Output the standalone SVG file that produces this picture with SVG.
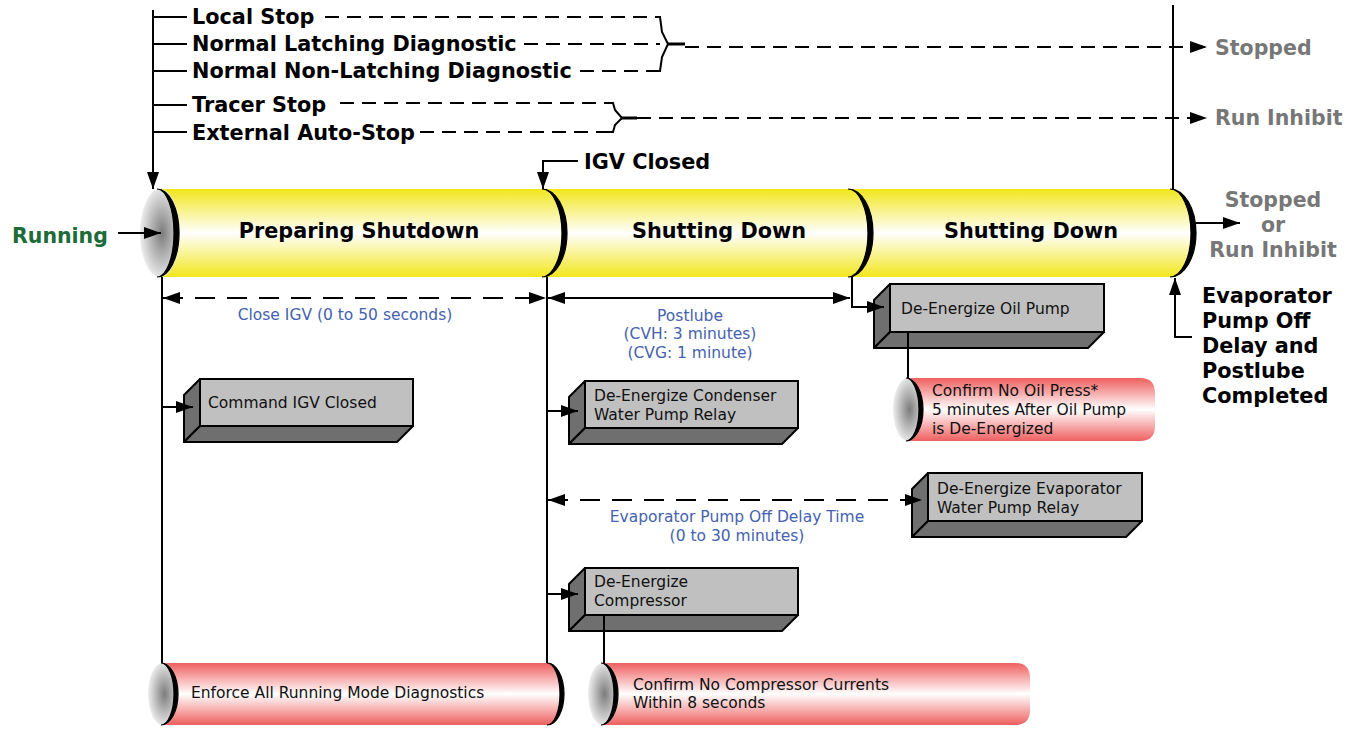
<svg xmlns="http://www.w3.org/2000/svg" width="1363" height="729" viewBox="0 0 1363 729">
<defs>
<linearGradient id="yg" x1="0" y1="0" x2="0" y2="1">
<stop offset="0" stop-color="#f2e61c"/><stop offset="0.5" stop-color="#ffffff"/><stop offset="1" stop-color="#f2e61c"/>
</linearGradient>
<linearGradient id="rg" x1="0" y1="0" x2="0" y2="1">
<stop offset="0" stop-color="#ef5f5f"/><stop offset="0.5" stop-color="#ffffff"/><stop offset="1" stop-color="#ef5f5f"/>
</linearGradient>
<radialGradient id="gg" cx="0.55" cy="0.5" r="0.55">
<stop offset="0" stop-color="#7c7c7c"/><stop offset="1" stop-color="#eeeeee"/>
</radialGradient>
<marker id="ar" viewBox="0 0 17 12" refX="17" refY="6" markerWidth="17" markerHeight="12" markerUnits="userSpaceOnUse" orient="auto-start-reverse">
<path d="M0,0 L17,6 L0,12 Z" fill="#000"/>
</marker>
<style>
.b{font-family:"DejaVu Sans",Verdana,sans-serif;font-weight:bold;font-size:20.8px;fill:#000}
.gr{font-family:"DejaVu Sans",Verdana,sans-serif;font-weight:bold;font-size:20.5px;fill:#777}
.gn{font-family:"DejaVu Sans",Verdana,sans-serif;font-weight:bold;font-size:20.5px;fill:#1c6b38}
.t{font-family:"DejaVu Sans",Verdana,sans-serif;font-size:15.5px;fill:#111}
.bl{font-family:"DejaVu Sans",Verdana,sans-serif;font-size:15.5px;fill:#4462b0}
.ln{fill:none;stroke:#000;stroke-width:2}
.ds{fill:none;stroke:#000;stroke-width:2;stroke-dasharray:14 8}
.dd{fill:none;stroke:#000;stroke-width:2;stroke-dasharray:20 12}
.lt{fill:#c0c0c0;stroke:#000;stroke-width:2}
.dk{fill:#6f6f6f;stroke:#000;stroke-width:2;stroke-linejoin:round}
.cr{fill:#000;stroke:#000;stroke-width:1.2}
</style>
</defs>

<g id="inputs">
<text class="b" x="192" y="24">Local Stop</text>
<text class="b" x="192" y="51">Normal Latching Diagnostic</text>
<text class="b" x="192" y="78">Normal Non-Latching Diagnostic</text>
<text class="b" x="192" y="112">Tracer Stop</text>
<text class="b" x="192" y="140">External Auto-Stop</text>
</g>
<g id="out-stopped"><text class="gr" x="1215" y="55">Stopped</text></g>
<g id="out-runinhibit"><text class="gr" x="1215" y="125">Run Inhibit</text></g>
<g id="running"><text class="gn" x="12" y="243">Running</text></g>
<g id="igv-closed"><text class="b" x="584" y="169">IGV Closed</text></g>

<g id="main-cylinder">
<ellipse cx="160" cy="233" rx="20" ry="44" fill="url(#gg)"/>
<path d="M160,189 H1172 A23,44 0 0 1 1172,277 H160 A20,44 0 0 0 160,189 Z" fill="url(#yg)"/>
<path class="cr" d="M157,189 A22,44 0 0 1 157,277 A17,44 0 0 0 157,189 Z"/>
<path class="cr" d="M542,189 A25,44 0 0 1 542,277 A20,44 0 0 0 542,189 Z"/>
<path class="cr" d="M848,189 A25,44 0 0 1 848,277 A20,44 0 0 0 848,189 Z"/>
<path class="cr" d="M1170,189 A26,44 0 0 1 1170,277 A21,44 0 0 0 1170,189 Z"/>
<text class="b" x="359" y="238" text-anchor="middle">Preparing Shutdown</text>
<text class="b" x="719" y="238" text-anchor="middle">Shutting Down</text>
<text class="b" x="1031" y="238" text-anchor="middle">Shutting Down</text>
</g>

<g id="final-state">
<text class="gr" text-anchor="middle"><tspan x="1273" y="207">Stopped</tspan><tspan x="1273" y="232">or</tspan><tspan x="1273" y="257">Run Inhibit</tspan></text>
</g>
<g id="completed">
<text class="b"><tspan x="1202" y="303">Evaporator</tspan><tspan x="1202" y="328">Pump Off</tspan><tspan x="1202" y="353">Delay and</tspan><tspan x="1202" y="378">Postlube</tspan><tspan x="1202" y="403">Completed</tspan></text>
</g>

<g id="label-close-igv"><text class="bl" x="345" y="320" text-anchor="middle">Close IGV (0 to 50 seconds)</text></g>
<g id="label-postlube"><text class="bl" text-anchor="middle"><tspan x="690" y="321">Postlube</tspan><tspan x="690" y="339">(CVH: 3 minutes)</tspan><tspan x="690" y="358">(CVG: 1 minute)</tspan></text></g>
<g id="label-evap-delay"><text class="bl" text-anchor="middle"><tspan x="737" y="522">Evaporator Pump Off Delay Time</tspan><tspan x="737" y="541">(0 to 30 minutes)</tspan></text></g>

<g id="box-command-igv">
<rect class="lt" x="200" y="379" width="213" height="47"/>
<polygon class="dk" points="200,379 200,426 184,442 184,395"/>
<polygon class="dk" points="200,426 413,426 397,442 184,442"/>
<text class="t" x="208" y="408">Command IGV Closed</text>
</g>
<g id="box-condenser">
<rect class="lt" x="585" y="381" width="213" height="47"/>
<polygon class="dk" points="585,381 585,428 569,444 569,397"/>
<polygon class="dk" points="585,428 798,428 782,444 569,444"/>
<text class="t"><tspan x="594" y="401">De-Energize Condenser</tspan><tspan x="594" y="420">Water Pump Relay</tspan></text>
</g>
<g id="box-oil-pump">
<rect class="lt" x="890" y="284" width="214" height="48"/>
<polygon class="dk" points="890,284 890,332 874,348 874,300"/>
<polygon class="dk" points="890,332 1104,332 1088,348 874,348"/>
<text class="t" x="901" y="314">De-Energize Oil Pump</text>
</g>
<g id="box-evaporator">
<rect class="lt" x="928" y="473" width="214" height="48"/>
<polygon class="dk" points="928,473 928,521 912,537 912,489"/>
<polygon class="dk" points="928,521 1142,521 1126,537 912,537"/>
<text class="t"><tspan x="937" y="494">De-Energize Evaporator</tspan><tspan x="937" y="513">Water Pump Relay</tspan></text>
</g>
<g id="box-compressor">
<rect class="lt" x="585" y="568" width="213" height="47"/>
<polygon class="dk" points="585,568 585,615 569,631 569,584"/>
<polygon class="dk" points="585,615 798,615 782,631 569,631"/>
<text class="t"><tspan x="594" y="587">De-Energize</tspan><tspan x="594" y="606">Compressor</tspan></text>
</g>

<g id="cyl-oil-press">
<ellipse cx="908" cy="409.5" rx="15" ry="31.5" fill="url(#gg)"/>
<path d="M908,378 H1140 Q1155,378 1155,393 V426 Q1155,441 1140,441 H908 A15,31.5 0 0 0 908,378 Z" fill="url(#rg)"/>
<path class="cr" d="M906,378 A17,31.5 0 0 1 906,441 A13,31.5 0 0 0 906,378 Z"/>
<text class="t"><tspan x="932" y="396">Confirm No Oil Press*</tspan><tspan x="932" y="415">5 minutes After Oil Pump</tspan><tspan x="932" y="434">is De-Energized</tspan></text>
</g>
<g id="cyl-enforce">
<ellipse cx="163" cy="694" rx="15" ry="31" fill="url(#gg)"/>
<path d="M163,663 H549 A14,31 0 0 1 549,725 H163 A15,31 0 0 0 163,663 Z" fill="url(#rg)"/>
<path class="cr" d="M161,663 A17,31 0 0 1 161,725 A13,31 0 0 0 161,663 Z"/>
<path class="cr" d="M547,663 A17,31 0 0 1 547,725 A13,31 0 0 0 547,663 Z"/>
<text class="t" x="191" y="698">Enforce All Running Mode Diagnostics</text>
</g>
<g id="cyl-compressor-currents">
<ellipse cx="603" cy="694" rx="15" ry="31" fill="url(#gg)"/>
<path d="M603,663 H1015 Q1030,663 1030,678 V710 Q1030,725 1015,725 H603 A15,31 0 0 0 603,663 Z" fill="url(#rg)"/>
<path class="cr" d="M601,663 A17,31 0 0 1 601,725 A13,31 0 0 0 601,663 Z"/>
<text class="t"><tspan x="633" y="690">Confirm No Compressor Currents</tspan><tspan x="633" y="708">Within 8 seconds</tspan></text>
</g>

<g id="connectors">
<path class="ln" d="M153,10 L153,189" marker-end="url(#ar)"/>
<path class="ln" d="M153,17 H187 M153,44 H187 M153,71 H187 M153,105 H187 M153,132 H187"/>
<path class="ds" d="M325,17 H655 M524,44 H660 M580,71 H655"/>
<path class="ln" d="M655,17 H660 L662,32 L668,44 L662,57 L660,71 H655"/>
<path fill="none" stroke="#000" stroke-width="3" d="M667,44 H685"/>
<path class="ds" d="M685,47 H1207" marker-end="url(#ar)"/>
<path class="ds" d="M340,103 H610 M420,132 H610"/>
<path class="ln" d="M608,103 H613 L615,110 L622,118 L615,125 L613,132 H608"/>
<path fill="none" stroke="#000" stroke-width="3" d="M621,118 H637"/>
<path class="ds" d="M637,118 H1207" marker-end="url(#ar)"/>
<path class="ln" d="M1173,5 V189"/>
<path class="ln" d="M118,233 H161" marker-end="url(#ar)"/>
<path class="ln" d="M578,161 H543 V189" marker-end="url(#ar)"/>
<path class="ln" d="M1196,223 H1240" marker-end="url(#ar)"/>
<path class="ln" d="M1192,337 H1175 V278" marker-end="url(#ar)"/>
<path class="ln" d="M162,277 V663"/>
<path class="ln" d="M547,277 V663"/>
<path class="ln" d="M852,277 V307 H884" marker-end="url(#ar)"/>
<path class="dd" d="M163,298 H546" marker-start="url(#ar)" marker-end="url(#ar)"/>
<path class="ln" d="M548,298 H850" marker-start="url(#ar)" marker-end="url(#ar)"/>
<path class="dd" d="M548,500 H922" marker-start="url(#ar)" marker-end="url(#ar)"/>
<path class="ln" d="M162,407 H193" marker-end="url(#ar)"/>
<path class="ln" d="M547,411 H578" marker-end="url(#ar)"/>
<path class="ln" d="M547,594 H578" marker-end="url(#ar)"/>
<path class="ln" d="M908,332 V378"/>
<path class="ln" d="M604,615 V663"/>
</g>
</svg>
